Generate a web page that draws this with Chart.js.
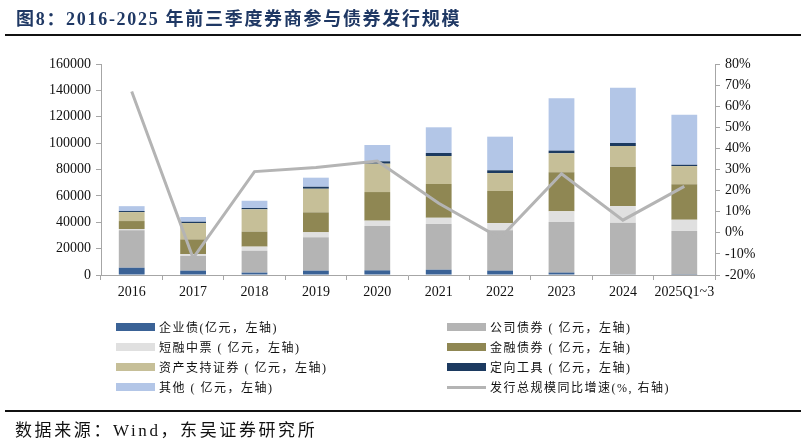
<!DOCTYPE html>
<html>
<head>
<meta charset="utf-8">
<script src="https://cdn.jsdelivr.net/npm/chart.js@4"></script>
<style>
  body { margin: 0; background: #fff; }
  #wrap { position: relative; width: 805px; height: 445px; overflow: hidden; font-family: "Liberation Serif", "Noto Sans CJK SC", serif; }
  #chart { position: absolute; left: 0; top: 0; }
  .title { position: absolute; left: 16px; top: 4px; font-size: 18px; font-weight: bold; color: #1f3864; white-space: nowrap; letter-spacing: 1.7px; }
  .rule { position: absolute; left: 5px; right: 4px; height: 2px; background: #111; }
  .source { position: absolute; left: 15px; top: 416px; font-size: 17px; color: #111; white-space: nowrap; letter-spacing: 2.6px; }
  .legend { position: absolute; font-size: 12px; color: #111; white-space: nowrap; letter-spacing: 1.5px; }
  .legend .item { position: absolute; display: flex; align-items: center; height: 16px; }
  .legend .sw { width: 39px; height: 8px; margin-right: 4px; }
  .legend .ln { width: 39px; height: 3px; margin-right: 4px; }
</style>
</head>
<body>
<div id="wrap">
  <canvas id="chart" width="805" height="445"></canvas>
  <div class="title">图8：2016-2025 年前三季度券商参与债券发行规模</div>
  <div class="rule" style="top:34px"></div>
  <div class="legend" id="legend"></div>
  <div class="rule" style="top:410px"></div>
  <div class="source">数据来源：Wind，东吴证券研究所</div>
</div>
<script>
// категории и ряды (亿元)
const categories = ['2016', '2017', '2018', '2019', '2020', '2021', '2022', '2023', '2024', '2025Q1~3'];
const enterprise = [5500, 3300, 1800, 3300, 3500, 4000, 3300, 1800, 300, 200];
const corporate = [28400, 11100, 16600, 25300, 33600, 34700, 30600, 38400, 39400, 33200];
const shortMtn = [1000, 1500, 3100, 3800, 4100, 4700, 5500, 8100, 12600, 8500];
const financial = [6000, 11100, 11400, 15100, 21700, 25600, 24300, 29600, 29800, 26900];
const abs = [6800, 12400, 16900, 17900, 21500, 21200, 13600, 14400, 15700, 13800];
const directional = [800, 1000, 1000, 1500, 1800, 2300, 2100, 2000, 2300, 1000];
const other = [3700, 3600, 5500, 6900, 12400, 19500, 25500, 39700, 41900, 37900];
// 同比增速 %
const growth = [67, -12, 29, 31, 34, 14, -2.5, 28, 6, 22];

const leftTicks = { min: 0, max: 160000, step: 20000 };
const rightTicks = { min: -20, max: 80, step: 10 };

const barSeries = [
  { label: '企业债(亿元，左轴)', data: enterprise, color: '#3a6296' },
  { label: '公司债券 ( 亿元，左轴)', data: corporate, color: '#b4b4b4' },
  { label: '短融中票 ( 亿元，左轴)', data: shortMtn, color: '#e0e0e0' },
  { label: '金融债券 ( 亿元，左轴)', data: financial, color: '#8f8753' },
  { label: '资产支持证券 ( 亿元，左轴)', data: abs, color: '#c6bf98' },
  { label: '定向工具 ( 亿元，左轴)', data: directional, color: '#1c3a60' },
  { label: '其他 ( 亿元，左轴)', data: other, color: '#b3c6e7' },
];
const lineLabel = '发行总规模同比增速(%, 右轴)';
const lineColor = '#b4b4b4';

const serif = '"Liberation Serif", "Noto Sans CJK SC", serif';
const axisColor = '#a6a6a6';

const datasets = barSeries.map(s => ({
  type: 'bar',
  label: s.label,
  data: s.data,
  backgroundColor: s.color,
  borderWidth: 0,
  yAxisID: 'y',
  stack: 'bond',
  order: 1,
  categoryPercentage: 1,
  barPercentage: 0.42,
}));

datasets.unshift({
  type: 'line',
  label: lineLabel,
  data: growth,
  borderColor: lineColor,
  borderWidth: 3,
  pointRadius: 0,
  tension: 0,
  yAxisID: 'y1',
  order: 0,
});

new Chart(document.getElementById('chart'), {
  data: { labels: categories, datasets },
  options: {
    responsive: false,
    animation: false,
    layout: { padding: { top: 64, left: 0, right: 0, bottom: 0 } },
    plugins: { legend: { display: false }, tooltip: { enabled: false } },
    scales: {
      x: {
        stacked: true,
        grid: { drawOnChartArea: false, drawTicks: true, tickLength: 5, color: axisColor, offset: true },
        border: { color: axisColor, width: 1 },
        ticks: { color: '#111', font: { family: serif, size: 14 }, padding: 4, maxRotation: 0, autoSkip: false },
        afterFit: s => { s.height = 170; },
      },
      y: {
        position: 'left',
        stacked: true,
        min: leftTicks.min,
        max: leftTicks.max,
        ticks: { stepSize: leftTicks.step, color: '#111', font: { family: serif, size: 14 }, padding: 5, callback: v => String(v) },
        grid: { drawOnChartArea: false, drawTicks: true, tickLength: 5, color: axisColor },
        border: { color: axisColor, width: 1 },
        afterFit: s => { s.width = 101; },
      },
      y1: {
        position: 'right',
        stacked: false,
        min: rightTicks.min,
        max: rightTicks.max,
        ticks: { stepSize: rightTicks.step, color: '#111', font: { family: serif, size: 14 }, padding: 5, callback: v => v + '%' },
        grid: { drawOnChartArea: false, drawTicks: true, tickLength: 5, color: axisColor },
        border: { color: axisColor, width: 1 },
        afterFit: s => { s.width = 90; },
      },
    },
  },
});

// легенда в две колонки
const legend = document.getElementById('legend');
const items = barSeries.map(s => ({ label: s.label, color: s.color, line: false }));
items.push({ label: lineLabel, color: lineColor, line: true });
const colX = [116, 447];
const rowY = [319, 339, 359, 379];
legend.innerHTML = items.map((it, i) => `
  <div class="item" style="left:${colX[i % 2]}px; top:${rowY[Math.floor(i / 2)]}px">
    <span class="${it.line ? 'ln' : 'sw'}" style="background:${it.color}"></span>
    <span>${it.label}</span>
  </div>`).join('');
</script>
</body>
</html>
